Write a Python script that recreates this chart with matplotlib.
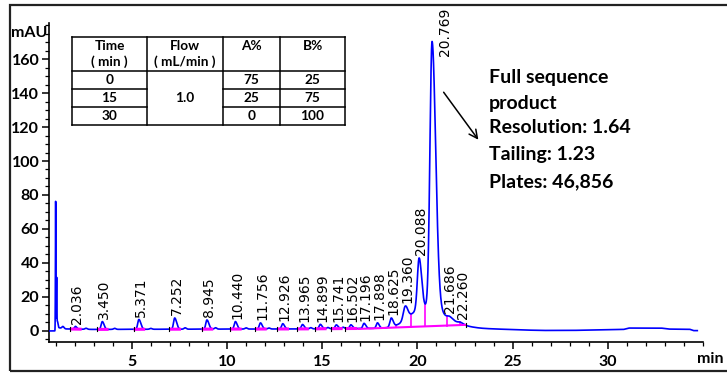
import numpy as np
import matplotlib
matplotlib.use("Agg")
import matplotlib.pyplot as plt
from matplotlib.patches import Rectangle, FancyArrowPatch
from matplotlib.lines import Line2D

# ---- peak table (retention time in min, height above baseline in mAU) ----
peak_rt = [2.036, 3.450, 5.371, 7.252, 8.945, 10.440, 11.756, 12.926, 13.965,
           14.899, 15.741, 16.502, 17.196, 17.898, 18.625, 19.360, 20.088,
           20.769, 21.686, 22.260]
peak_height = [1.6, 4.6, 5.8, 6.6, 5.4, 4.4, 3.6, 3.1, 2.6,
               2.6, 2.2, 2.2, 3.0, 3.2, 5.2, 8.0, 30.0,
               158.0, 1.2, 0.8]
peak_sigma_left = [0.05, 0.06, 0.06, 0.06, 0.06, 0.06, 0.06, 0.06, 0.06,
                   0.06, 0.06, 0.06, 0.06, 0.06, 0.07, 0.10, 0.09,
                   0.11, 0.10, 0.10]
peak_sigma_right = [0.07, 0.09, 0.10, 0.10, 0.10, 0.09, 0.09, 0.09, 0.09,
                    0.09, 0.09, 0.09, 0.09, 0.09, 0.10, 0.13, 0.13,
                    0.19, 0.14, 0.14]
# horizontal nudge of each retention-time label (min)
label_shift = [0.1] * 18 + [0.0, 0.15]

# unlabelled features: solvent front, small baseline bumps, unresolved envelope
extra_rt = [1.00, 1.05, 1.09, 1.38, 2.6, 4.1, 6.0, 7.8, 9.4, 11.0, 12.2,
            14.4, 15.3, 16.1, 20.35, 21.25]
extra_height = [76.0, 30.0, 4.0, 1.2, 0.6, 0.6, 0.5, 0.8, 0.8, 0.7, 0.6,
                0.7, 0.7, 0.8, 12.0, 6.0]
extra_sigma_left = [0.012, 0.015, 0.02, 0.05, 0.06, 0.06, 0.06, 0.06, 0.06,
                    0.06, 0.06, 0.06, 0.06, 0.06, 0.75, 0.30]
extra_sigma_right = [0.008, 0.012, 0.03, 0.06, 0.06, 0.06, 0.06, 0.06, 0.06,
                     0.06, 0.06, 0.06, 0.06, 0.06, 0.55, 0.80]

# detector baseline (time, mAU)
base_t = [0.65, 0.97, 1.12, 1.5, 3.0, 6.0, 10.0, 14.0, 16.0, 17.5, 19.0,
          21.0, 23.0, 24.0, 25.5, 26.5, 28.0, 29.5, 30.8, 31.1, 32.8, 33.2,
          34.3, 34.5, 34.7]
base_v = [0.0, 0.0, 2.0, 1.2, 0.9, 1.0, 1.1, 1.2, 1.4, 1.5, 1.6,
          1.7, 1.6, 1.2, 0.6, 0.3, 0.3, 0.6, 0.8, 1.7, 1.7, 1.1,
          1.0, 0.2, 0.2]

# integration baseline of the late cluster and its drop lines
cluster_start, cluster_end = 16.9, 22.55
cluster_level = [1.2, 3.6]
drop_times = [18.87, 19.64, 20.39, 21.56, 22.23]

y_ticks = [0, 20, 40, 60, 80, 100, 120, 140, 160]
x_ticks = [5, 10, 15, 20, 25, 30]

# gradient table
tbl_time = ["0", "15", "30"]
tbl_flow = "1.0"
tbl_a = ["75", "25", "0"]
tbl_b = ["25", "75", "100"]

note_lines = ["Full sequence", "product", "Resolution: 1.64",
              "Tailing: 1.23", "Plates: 46,856"]


def asym_peak(t, rt, h, sl, sr):
    s = np.where(t < rt, sl, sr)
    return h * np.exp(-0.5 * ((t - rt) / s) ** 2)


t = np.linspace(0.65, 34.7, 12000)
signal = np.interp(t, base_t, base_v)
for rt, h, sl, sr in zip(peak_rt, peak_height, peak_sigma_left, peak_sigma_right):
    signal = signal + asym_peak(t, rt, h, sl, sr)
for rt, h, sl, sr in zip(extra_rt, extra_height, extra_sigma_left, extra_sigma_right):
    signal = signal + asym_peak(t, rt, h, sl, sr)

W, H = 727, 375
fig = plt.figure(figsize=(W / 100, H / 100), dpi=100)
bold = {"family": ["Lato", "DejaVu Sans"], "weight": "bold"}


def fx(x):
    return x / W


def fy(y):
    return 1 - y / H


ax = fig.add_axes([fx(49), fy(342), fx(703) - fx(49), fy(23) - fy(342)])
ax.set_xlim(0.65, 35.0)
ax.set_ylim(-6.5, 181.2)

ax.plot(t, signal, color="#0000ff", lw=1.2, zorder=3)

# integration marks
pink = "#ff00ff"
for rt in peak_rt[:12]:
    a, b = rt - 0.28, rt + 0.33
    ya = np.interp(a, base_t, base_v)
    yb = np.interp(b, base_t, base_v)
    ax.plot([a, b], [ya, yb], color=pink, lw=2.2, zorder=4, solid_capstyle="butt")
    ax.plot([a, a], [ya - 1.2, ya + 1.2], color="black", lw=0.8, zorder=5)
ax.plot([cluster_start, cluster_end], cluster_level, color=pink, lw=1.5, zorder=4)
for dt in drop_times:
    yb = np.interp(dt, [cluster_start, cluster_end], cluster_level)
    yc = np.interp(dt, t, signal)
    ax.plot([dt, dt], [yb, yc], color=pink, lw=1.2, zorder=2)
ax.plot([cluster_end, cluster_end], [cluster_level[1] - 1.2, cluster_level[1] + 1.2],
        color="black", lw=0.8, zorder=5)

# retention-time labels
for rt, dx in zip(peak_rt, label_shift):
    win = (t > rt - 0.12) & (t < rt + 0.12)
    top = signal[win].max()
    if rt == 20.769:
        ax.text(21.45, 162, f"{rt:.3f}", rotation=90, ha="center", va="bottom",
                fontsize=10, color="black")
    else:
        ax.text(rt + dx, top + 1.5, f"{rt:.3f}", rotation=90, ha="center",
                va="bottom", fontsize=10, color="black")

# axes styling
for side in ("top", "right"):
    ax.spines[side].set_visible(False)
ax.spines["left"].set_linewidth(1.2)
ax.spines["bottom"].set_linewidth(1.2)
ax.set_xticks(x_ticks)
ax.set_xticks(np.arange(1, 36, 1), minor=True)
ax.set_yticks(y_ticks)
ax.set_yticks(np.arange(-5, 181, 5), minor=True)
ax.tick_params(axis="both", which="major", length=5, width=1.1, pad=2)
ax.tick_params(axis="both", which="minor", length=3, width=0.9)
for lab in ax.get_xticklabels() + ax.get_yticklabels():
    lab.set_fontfamily(["Lato", "DejaVu Sans"])
    lab.set_fontweight("bold")
    lab.set_fontsize(11.5)
ax.tick_params(axis="x", pad=4)
ax.text(35.4, -0.03, "min", transform=ax.get_xaxis_transform(), ha="center",
        va="top", fontsize=11.5, **bold)
fig.text(fx(29), fy(33), "mAU", ha="center", va="center", fontsize=11.5, **bold)

# gradient table drawn in pixel positions
cols = [72, 147, 223, 280, 345]
rows = [37, 71, 89, 107, 125]
lw_t = 1.1


def hline(y, x0, x1):
    fig.add_artist(Line2D([fx(x0), fx(x1)], [fy(y), fy(y)], color="black", lw=lw_t))


def vline(x, y0, y1):
    fig.add_artist(Line2D([fx(x), fx(x)], [fy(y0), fy(y1)], color="black", lw=lw_t))


hline(rows[0], cols[0], cols[-1])
hline(rows[1], cols[0], cols[-1])
hline(rows[-1], cols[0], cols[-1])
for r in rows[2:4]:
    hline(r, cols[0], cols[1])
    hline(r, cols[2], cols[4])
for c in cols:
    vline(c, rows[0], rows[-1])

tf = dict(ha="center", va="center", fontsize=9.8, **bold)
cx = [(cols[i] + cols[i + 1]) / 2 for i in range(4)]
fig.text(fx(cx[0]), fy(46), "Time", **tf)
fig.text(fx(cx[0]), fy(62), "( min )", **tf)
fig.text(fx(cx[1]), fy(46), "Flow", **tf)
fig.text(fx(cx[1]), fy(62), "( mL/min )", **tf)
fig.text(fx(cx[2]), fy(46), "A%", **tf)
fig.text(fx(cx[3]), fy(46), "B%", **tf)
for i in range(3):
    yc = (rows[i + 1] + rows[i + 2]) / 2
    fig.text(fx(cx[0]), fy(yc), tbl_time[i], **tf)
    fig.text(fx(cx[2]), fy(yc), tbl_a[i], **tf)
    fig.text(fx(cx[3]), fy(yc), tbl_b[i], **tf)
fig.text(fx(cx[1]), fy((rows[1] + rows[-1]) / 2), tbl_flow, **tf)

# main-peak annotation
for y, line in zip([78, 103, 128, 154, 182], note_lines):
    fig.text(fx(489), fy(y), line, ha="left", va="center", fontsize=14, **bold)
fig.add_artist(FancyArrowPatch(
    (fx(442), fy(90)), (fx(480), fy(142)), transform=fig.transFigure,
    arrowstyle="->,head_length=6,head_width=3", color="black", lw=1.1))

# outer frame
fig.add_artist(Rectangle((fx(10), fy(371)), fx(740) - fx(10), fy(5) - fy(371),
                         transform=fig.transFigure, fill=False,
                         edgecolor="#222222", lw=1.6))

fig.savefig("out.png", dpi=100)
